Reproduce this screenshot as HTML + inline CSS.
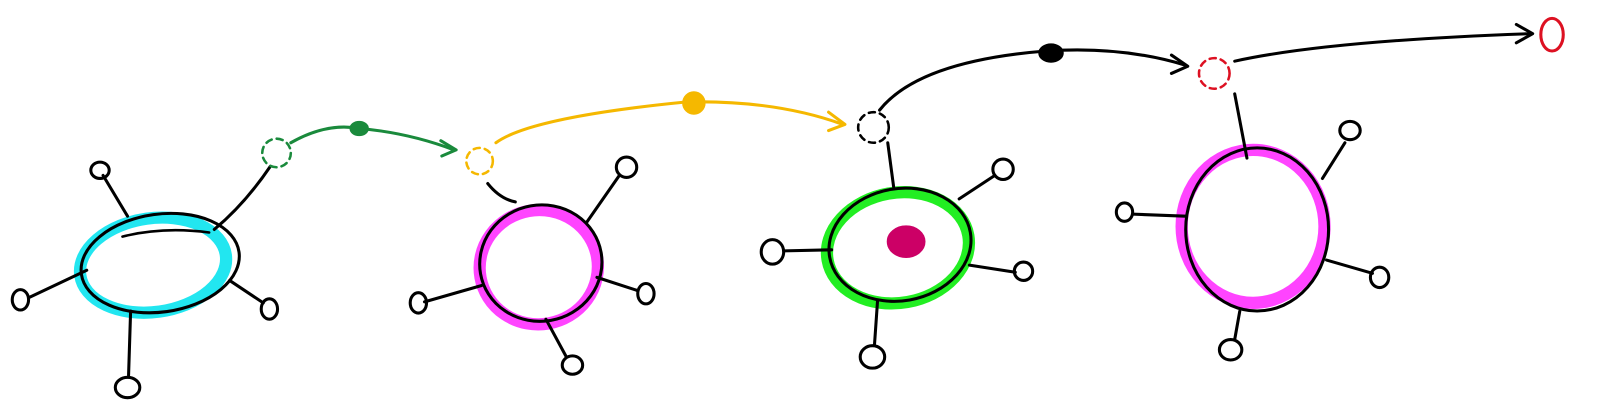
<!DOCTYPE html>
<html><head><meta charset="utf-8"><style>html,body{margin:0;padding:0;background:#fff}svg{display:block}</style></head>
<body>
<svg width="1600" height="413" viewBox="0 0 1568 405" preserveAspectRatio="none" xmlns="http://www.w3.org/2000/svg">
<g fill="none" stroke-linecap="round" stroke-linejoin="round">
<!-- Cell 1 -->
<g>
<ellipse cx="150" cy="260" rx="72" ry="46" stroke="#22e6f0" stroke-width="12" transform="rotate(-8 150 260)"/>
<ellipse cx="157" cy="258" rx="78" ry="48" stroke="#000" stroke-width="3" transform="rotate(-8 157 258)"/>
<path d="M120 232 Q160 222 205 228" stroke="#000" stroke-width="2.5"/>
<path d="M125 212 L101 172 M85 265 L28 292 M128 305 L126 368 M225 275 L258 297 M210 225 Q240 200 265 163" stroke="#000" stroke-width="3"/>
<ellipse cx="98" cy="167" rx="9" ry="8" stroke="#000" stroke-width="3"/>
<ellipse cx="20" cy="294" rx="8" ry="10" stroke="#000" stroke-width="3"/>
<ellipse cx="125" cy="380" rx="12" ry="10" stroke="#000" stroke-width="3"/>
<ellipse cx="264" cy="303" rx="8" ry="10" stroke="#000" stroke-width="3"/>
<circle cx="271" cy="150" r="14" stroke="#1a8a3c" stroke-width="2.5" stroke-dasharray="6 5"/>
</g>
<g>
<path d="M285 140 Q320 120 352 126 Q400 130 445 147" stroke="#1a8a3c" stroke-width="3"/>
<path d="M432 138 L447 147 L433 153" stroke="#1a8a3c" stroke-width="3"/>
<ellipse cx="352" cy="126" rx="9" ry="7" fill="#1a8a3c" stroke="#1a8a3c"/>
</g>
<!-- Cell 2 -->
<g>
<ellipse cx="528" cy="262" rx="58" ry="56" stroke="#ff44ff" stroke-width="12" transform="rotate(-10 528 262)"/>
<ellipse cx="530" cy="258" rx="60" ry="57" stroke="#000" stroke-width="3" transform="rotate(-10 530 258)"/>
<path d="M478 180 Q490 195 505 198 M575 218 L607 172 M472 280 L416 296 M535 313 L555 350 M585 272 L625 285" stroke="#000" stroke-width="3"/>
<circle cx="470" cy="158" r="13" stroke="#f5b800" stroke-width="2.5" stroke-dasharray="6 5"/>
<ellipse cx="614" cy="164" rx="10" ry="10" stroke="#000" stroke-width="3"/>
<ellipse cx="410" cy="297" rx="8" ry="10" stroke="#000" stroke-width="3"/>
<ellipse cx="561" cy="358" rx="10" ry="9" stroke="#000" stroke-width="3"/>
<ellipse cx="633" cy="288" rx="8" ry="10" stroke="#000" stroke-width="3"/>
</g>
<g>
<path d="M486 140 Q520 115 672 100 Q760 98 826 122" stroke="#f5b800" stroke-width="3"/>
<path d="M812 110 L828 122 L812 128" stroke="#f5b800" stroke-width="3"/>
<circle cx="680" cy="101" r="11" fill="#f5b800" stroke="#f5b800"/>
</g>
<!-- Cell 3 -->
<g>
<ellipse cx="880" cy="243" rx="70" ry="54" stroke="#22ee22" stroke-width="12" transform="rotate(-10 880 243)"/>
<ellipse cx="882" cy="240" rx="70" ry="55" stroke="#000" stroke-width="3" transform="rotate(-10 882 240)"/>
<ellipse cx="888" cy="237" rx="18" ry="15" fill="#cc0066" stroke="#cc0066" stroke-width="2"/>
<path d="M870 140 L876 185 M940 195 L975 172 M815 245 L768 246 M950 260 L995 267 M860 295 L857 338" stroke="#000" stroke-width="3"/>
<circle cx="856" cy="125" r="15" stroke="#000" stroke-width="2.5" stroke-dasharray="6 5"/>
<ellipse cx="983" cy="166" rx="10" ry="10" stroke="#000" stroke-width="3"/>
<ellipse cx="757" cy="247" rx="11" ry="12" stroke="#000" stroke-width="3"/>
<ellipse cx="1003" cy="266" rx="9" ry="9" stroke="#000" stroke-width="3"/>
<ellipse cx="855" cy="350" rx="12" ry="11" stroke="#000" stroke-width="3"/>
</g>
<g>
<path d="M862 108 Q900 60 1025 50 Q1100 45 1162 64" stroke="#000" stroke-width="3"/>
<path d="M1148 54 L1164 65 L1148 72" stroke="#000" stroke-width="3"/>
<ellipse cx="1030" cy="52" rx="12" ry="9" fill="#000" stroke="#000"/>
<circle cx="1190" cy="72" r="15" stroke="#dd1122" stroke-width="2.5" stroke-dasharray="6 5"/>
<path d="M1210 60 Q1300 40 1500 33" stroke="#000" stroke-width="3"/>
<path d="M1486 24 L1502 33 L1486 42" stroke="#000" stroke-width="3"/>
<ellipse cx="1521" cy="34" rx="11" ry="16" stroke="#dd1122" stroke-width="3"/>
</g>
<!-- Cell 4 -->
<g>
<ellipse cx="1228" cy="222" rx="70" ry="75" stroke="#ff44ff" stroke-width="12"/>
<ellipse cx="1232" cy="225" rx="70" ry="80" stroke="#000" stroke-width="3"/>
<path d="M1210 92 L1222 155 M1296 175 L1318 140 M1162 212 L1110 210 M1300 255 L1345 268 M1215 305 L1210 333" stroke="#000" stroke-width="3"/>
<ellipse cx="1323" cy="128" rx="10" ry="9" stroke="#000" stroke-width="3"/>
<ellipse cx="1102" cy="208" rx="8" ry="9" stroke="#000" stroke-width="3"/>
<ellipse cx="1352" cy="272" rx="9" ry="10" stroke="#000" stroke-width="3"/>
<ellipse cx="1206" cy="343" rx="11" ry="10" stroke="#000" stroke-width="3"/>
</g>
</g>
</svg>
</body></html>
